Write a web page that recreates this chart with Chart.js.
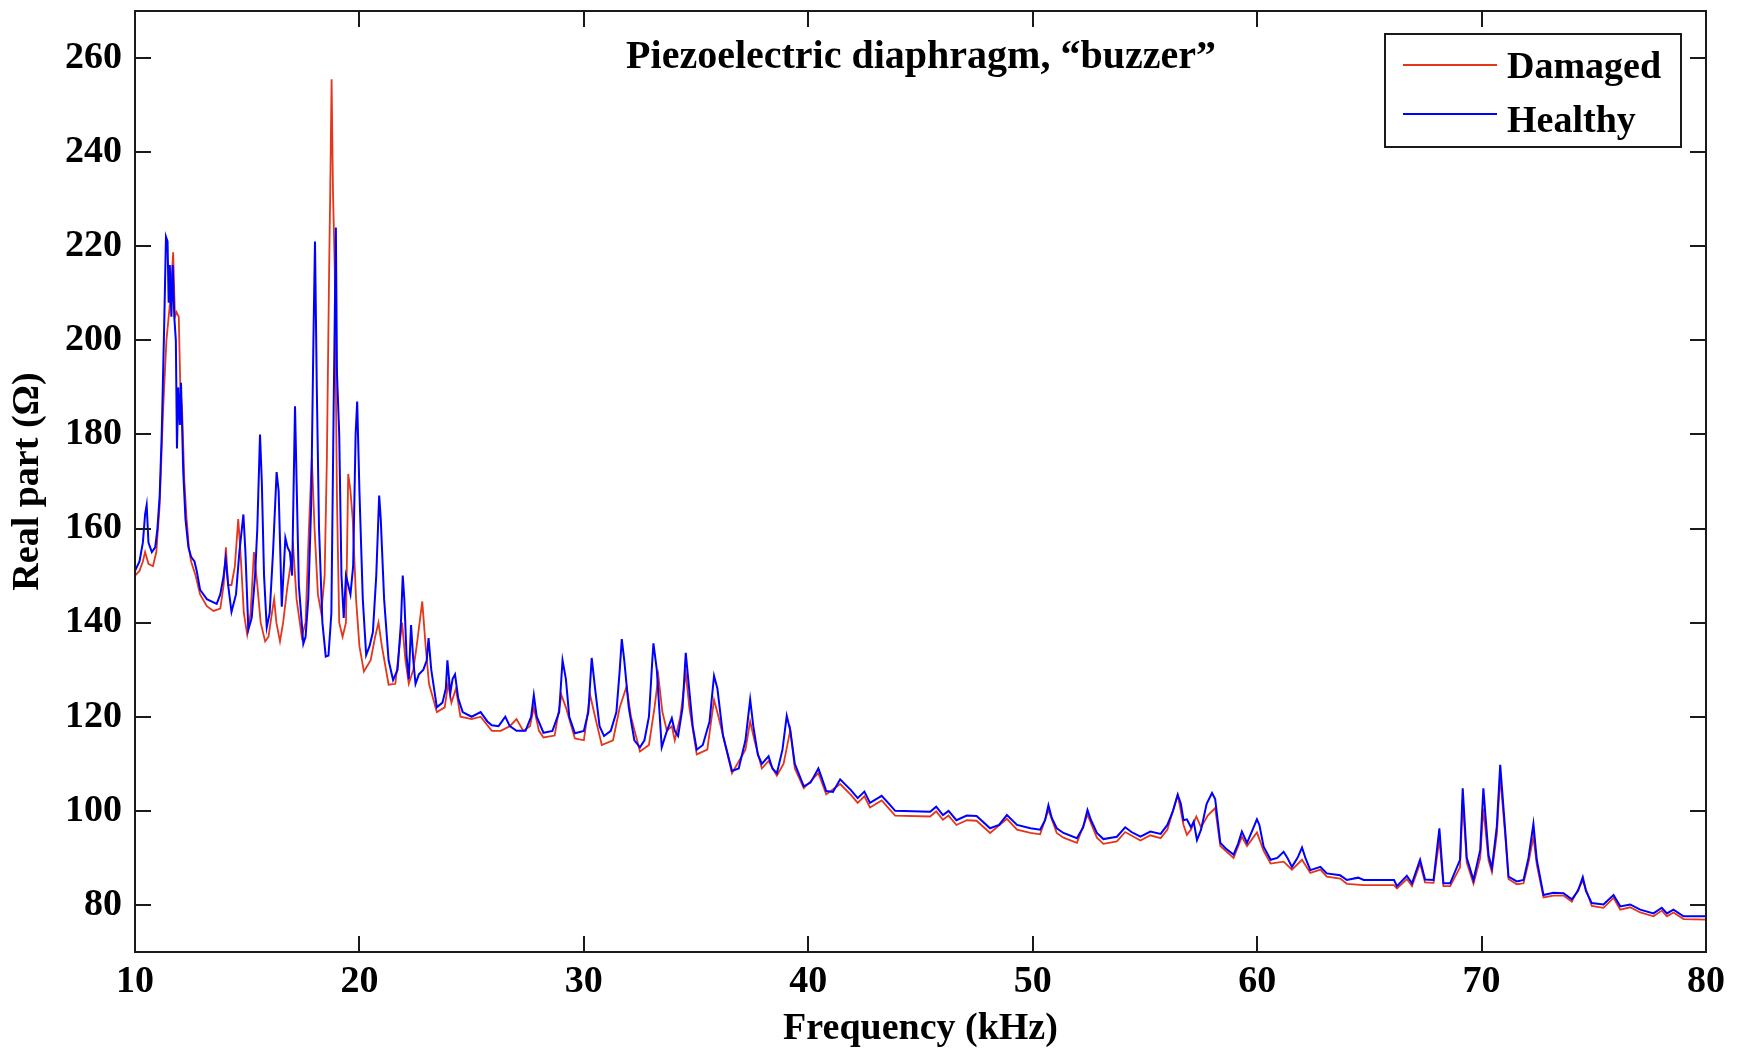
<!DOCTYPE html>
<html>
<head>
<meta charset="utf-8">
<script src="https://cdn.jsdelivr.net/npm/chart.js@4.4.1/dist/chart.umd.min.js"></script>
<style>
html,body{margin:0;padding:0;background:#fff;}
canvas{display:block;}
</style>
</head>
<body>
<canvas id="c" width="1739" height="1052"></canvas>
<script>
const chartTitle = 'Piezoelectric diaphragm, \u201cbuzzer\u201d';
const xTitle = 'Frequency (kHz)';
const yTitle = 'Real part (\u03a9)';
const seriesNames = ['Damaged', 'Healthy'];
const xTicks = [10, 20, 30, 40, 50, 60, 70, 80];
const yTicks = [80, 100, 120, 140, 160, 180, 200, 220, 240, 260];

const freqHealthy = [10.0,10.2,10.35,10.45,10.52,10.6,10.75,10.9,11.0,11.1,11.19,11.3,11.38,11.45,11.5,11.55,11.62,11.68,11.75,11.82,11.87,11.93,12.0,12.05,12.15,12.25,12.38,12.5,12.65,12.75,12.9,13.2,13.64,13.8,13.95,14.04,14.15,14.3,14.5,14.65,14.83,14.92,15.05,15.2,15.35,15.45,15.57,15.65,15.75,15.87,16.0,16.15,16.31,16.4,16.54,16.7,16.8,16.9,17.0,17.13,17.2,17.3,17.5,17.6,17.72,17.85,17.95,18.02,18.1,18.2,18.35,18.5,18.62,18.75,18.85,18.95,19.0,19.1,19.2,19.3,19.4,19.5,19.6,19.72,19.83,19.9,20.0,20.15,20.3,20.45,20.6,20.75,20.88,20.95,21.1,21.3,21.5,21.7,21.85,21.93,22.0,22.1,22.2,22.3,22.4,22.5,22.65,22.85,23.0,23.08,23.2,23.45,23.7,23.85,23.92,24.05,24.15,24.26,24.4,24.6,25.0,25.4,25.7,25.9,26.2,26.5,26.7,27.0,27.4,27.65,27.77,27.9,28.2,28.6,28.9,29.05,29.2,29.35,29.6,30.0,30.2,30.35,30.5,30.7,30.9,31.2,31.45,31.6,31.69,31.8,32.0,32.25,32.5,32.7,32.9,33.05,33.1,33.25,33.47,33.7,33.92,34.05,34.2,34.4,34.54,34.65,34.85,35.03,35.3,35.6,35.8,35.95,36.2,36.6,36.9,37.2,37.41,37.55,37.75,37.93,38.23,38.4,38.6,38.85,39.04,39.2,39.4,39.8,40.1,40.45,40.6,40.8,41.1,41.42,41.9,42.2,42.5,42.75,43.27,43.6,43.87,45.43,45.7,46.0,46.25,46.6,47.06,47.5,48.1,48.5,48.85,49.3,49.9,50.33,50.55,50.7,50.85,51.07,51.37,51.97,52.25,52.44,52.6,52.86,53.15,53.75,54.12,54.4,54.8,55.24,55.7,56.0,56.25,56.46,56.6,56.72,56.87,57.05,57.17,57.32,57.5,57.75,57.99,58.13,58.36,58.6,58.95,59.15,59.32,59.55,59.8,59.99,60.1,60.29,60.6,60.9,61.18,61.35,61.55,61.8,62.0,62.15,62.37,62.82,63.1,63.7,64.0,64.5,64.75,66.1,66.23,66.67,66.9,67.26,67.48,67.86,68.12,68.3,68.6,69.04,69.16,69.34,69.64,69.94,70.08,70.31,70.46,70.68,70.83,71.05,71.2,71.57,71.87,72.09,72.31,72.46,72.76,73.2,73.65,74.02,74.3,74.51,74.65,74.91,75.43,75.88,76.18,76.62,77.07,77.66,78.03,78.26,78.55,79.0,80.0];
const healthy = [151,153,157,163,165,157,155,156,160,167,180,203,222,221,208,216,205,216,205,200,177,190,182,191,172,162,156,154,153,151,147,145,144,146,150,153.6,148,142.3,146,155,163,155,138.5,141,150,160,180,170,150,139,142,155,172,168,143.4,158,156,155,150,186,170,148,135.5,137,145,165,200,221,190,160,140,132.8,133,142,185,224,193,180,150,141,150,148,146,152,180,187,168,145,133.1,135,138,150,167,162,145,132,127.8,130,140,150,145,133,128,139.5,132,127,129,130,132,136.7,130,122,123,126,132,125,128,129,124,121,120,121,119,118.2,118,120,118,117,117,120,124.6,120,116.6,117,121,132,128,120,116.5,117,121,132.5,126,118,115.9,117,121,130,136.5,132,122,115,113.5,115,120,132,135.6,130,113.5,117,119.7,117,115.9,122,133.6,128,118,113,114,119,128.7,126,116,108.5,109,115,123.7,118,112,110,111.6,109,108,113,120.2,117,110,105.2,106,109,107,104.2,104,106.7,104.4,102.7,104.1,101.7,103.2,101.5,100,99.8,100.9,99.1,100,98,99,98.9,96.3,97,99.1,97,96.3,96,98,101.2,98.5,96.3,95.3,94.2,96.5,100.2,98,95.3,94,94.5,96.5,95.5,94.5,95.6,95.1,97,100,103.4,101.5,98,98.2,96.5,97.7,93.8,96,101.5,103.8,102.5,93.2,92,90.7,93,95.6,93.2,96,98.2,97,92.4,89.6,90,91.3,90,88.1,90,92.2,90,87.4,88.1,86.7,86.3,85.3,85.8,85.3,85.3,84,86.2,84.6,89.6,85.4,85.3,96.3,84.6,84.6,89.6,104.8,90,85.3,91.7,104.8,90.6,87.8,96.7,109.8,96,86,85,85.3,90,97.2,89.6,82.1,82.6,82.5,81.2,83,85.9,83,80.4,80.1,82.1,79.7,80.1,79,78.2,79.4,78.2,79,77.6,77.6];

const freqDamaged = [10.0,10.2,10.35,10.45,10.6,10.8,10.95,11.1,11.25,11.4,11.5,11.6,11.7,11.78,11.85,11.95,12.02,12.1,12.2,12.3,12.4,12.5,12.7,12.9,13.2,13.5,13.8,13.95,14.05,14.15,14.3,14.45,14.6,14.7,14.85,15.0,15.15,15.3,15.45,15.6,15.8,15.95,16.1,16.2,16.3,16.46,16.6,16.8,17.05,17.2,17.43,17.6,17.75,17.88,18.0,18.15,18.3,18.45,18.55,18.65,18.7,18.76,18.82,18.9,19.0,19.1,19.25,19.4,19.5,19.6,19.7,19.85,20.0,20.2,20.5,20.7,20.85,21.0,21.3,21.6,21.9,22.05,22.2,22.4,22.55,22.8,22.95,23.1,23.45,23.8,23.95,24.1,24.3,24.5,25.0,25.4,25.9,26.3,26.7,27.0,27.3,27.6,27.77,28.0,28.2,28.7,29.0,29.2,29.6,30.0,30.28,30.5,30.8,31.3,31.6,31.9,32.1,32.5,32.9,33.15,33.32,33.5,33.7,33.92,34.05,34.3,34.54,34.7,35.03,35.5,35.8,36.0,36.6,37.2,37.41,37.6,37.93,38.23,38.6,38.9,39.2,39.4,39.8,40.45,40.8,41.42,41.9,42.2,42.5,42.75,43.27,43.87,45.43,45.7,46.0,46.25,46.6,47.06,47.5,48.1,48.85,49.3,49.9,50.33,50.7,51.07,51.37,51.97,52.44,52.86,53.15,53.75,54.12,54.8,55.24,55.7,56.0,56.46,56.72,56.87,57.05,57.29,57.5,57.8,58.13,58.36,58.95,59.32,59.55,59.99,60.29,60.6,61.18,61.55,62.0,62.37,62.82,63.1,63.7,64.0,64.75,66.1,66.23,66.67,66.9,67.26,67.48,67.86,68.12,68.3,68.6,69.04,69.16,69.34,69.64,69.94,70.08,70.31,70.46,70.68,70.83,71.05,71.2,71.57,71.87,72.09,72.31,72.46,72.76,73.2,73.65,74.02,74.51,74.91,75.43,75.88,76.18,76.62,77.07,77.66,78.03,78.26,78.55,79.0,80.0];
const damaged = [150,151,153,155,152.5,152,155,165,185,200,205,210,218.7,205,206,205,190,185,170,162,156,153,150,146,143.5,142.5,143,148,156,148,148,152,162,155,142,137.5,142,155,148,140,136,137,142,145,140,136,140,148,156,145,137,140,160,175,160,146,142,150,175,215,232,255.5,232,215,166,140,137,140,171.6,168,162,145,135,129.6,132,137,140,135,126.8,127,140,132,127,130,135,144.5,135,127,121,122,127,123,126,120,119.5,120,117,117,118,119.5,117,118,122,117,115.6,116,124.6,122,115.4,115,124.6,120,114,115,122,126.4,120,112.6,114,122,128.6,121,117,118,115,120,129.3,122,112,113,123.6,120,108,113,119,115,109,110.6,107.5,110,117.2,109,104.8,108,103.5,105.7,103.4,101.7,103.1,100.7,102.2,99,98.8,99.9,98.1,99,97,98,97.9,95.3,98.3,96,95.3,95,100.2,95.3,94.3,93.2,99.2,94.3,93,93.5,95.5,93.7,94.8,94.2,96,103.4,97,94.9,96,98.8,96.5,99,100.6,92.5,90,94.5,92.5,95.4,91.5,88.8,89.2,87.5,89.6,86.8,87.5,86,85.6,84.5,84.2,84.2,83.5,85.5,84,88.8,84.8,84.7,94,84,84,88,102.3,89,84.5,90,100.5,89.5,87,95,107.3,95,85.5,84.4,84.6,89,94.5,88.6,81.6,82,82,80.7,85.2,79.8,79.4,81.5,79,79.5,78.4,77.6,78.8,77.6,78.4,77,76.9];

const RED = '#e4361a';
const BLUE = '#0000ff';
const FONT = 'Liberation Serif, Times New Roman, serif';

function pts(xs, ys) { return xs.map((x, i) => ({x: x, y: ys[i]})); }

const framePlugin = {
  id: 'frame',
  afterDatasetsDraw(chart) {
    const {ctx, chartArea: a, scales: {x, y}} = chart;
    ctx.save();
    ctx.strokeStyle = '#1a1a1a';
    ctx.lineWidth = 2;
    ctx.strokeRect(a.left, a.top, a.right - a.left, a.bottom - a.top);
    const L = 16;
    ctx.beginPath();
    xTicks.forEach(v => {
      const px = Math.round(x.getPixelForValue(v));
      ctx.moveTo(px, a.bottom); ctx.lineTo(px, a.bottom - L);
      ctx.moveTo(px, a.top); ctx.lineTo(px, a.top + L);
    });
    yTicks.forEach(v => {
      const py = Math.round(y.getPixelForValue(v));
      ctx.moveTo(a.left, py); ctx.lineTo(a.left + L, py);
      ctx.moveTo(a.right, py); ctx.lineTo(a.right - L, py);
    });
    ctx.stroke();
    // title
    ctx.fillStyle = '#000';
    ctx.font = 'bold 40px ' + FONT;
    ctx.textAlign = 'center';
    ctx.textBaseline = 'middle';
    ctx.fillText(chartTitle, 921, 58);
    // legend
    const bx = 1385, by = 34, bw = 296, bh = 113;
    ctx.fillStyle = '#fff';
    ctx.fillRect(bx, by, bw, bh);
    ctx.strokeStyle = '#1a1a1a';
    ctx.lineWidth = 2;
    ctx.strokeRect(bx, by, bw, bh);
    const rows = [65, 114];
    const baselines = [78, 132];
    chart.data.datasets.forEach((ds, i) => {
      ctx.strokeStyle = ds.borderColor;
      ctx.lineWidth = 2;
      ctx.beginPath();
      ctx.moveTo(1403, rows[i]); ctx.lineTo(1497, rows[i]);
      ctx.stroke();
      ctx.fillStyle = '#000';
      ctx.textAlign = 'left';
      ctx.textBaseline = 'alphabetic';
      ctx.font = 'bold 38px ' + FONT;
      ctx.fillText(ds.label, 1507, baselines[i]);
    });
    ctx.restore();
  }
};

new Chart(document.getElementById('c'), {
  type: 'line',
  data: {
    datasets: [
      {label: seriesNames[0], data: pts(freqDamaged, damaged), borderColor: RED, borderWidth: 1.8, pointRadius: 0, tension: 0, order: 2},
      {label: seriesNames[1], data: pts(freqHealthy, healthy), borderColor: BLUE, borderWidth: 2, pointRadius: 0, tension: 0, order: 1}
    ]
  },
  options: {
    responsive: false,
    animation: false,
    layout: {padding: {top: 11, right: 33, left: 0, bottom: 0}},
    plugins: {legend: {display: false}, tooltip: {enabled: false}},
    scales: {
      x: {
        type: 'linear', min: 10, max: 80,
        afterBuildTicks: s => { s.ticks = xTicks.map(v => ({value: v})); },
        afterFit: s => { s.height = 100; s.paddingLeft = 0; s.paddingRight = 0; },
        grid: {display: false, drawTicks: false},
        border: {display: false},
        ticks: {color: '#000', padding: 7, maxRotation: 0, font: {family: FONT, size: 38, weight: 'bold'}},
        title: {display: true, text: xTitle, color: '#000', padding: {top: 0, bottom: 0}, font: {family: FONT, size: 38, weight: 'bold'}}
      },
      y: {
        type: 'linear', min: 70, max: 270,
        afterBuildTicks: s => { s.ticks = yTicks.map(v => ({value: v})); },
        afterFit: s => { s.width = 135; s.paddingTop = 0; s.paddingBottom = 0; },
        grid: {display: false, drawTicks: false},
        border: {display: false},
        ticks: {color: '#000', padding: 13, font: {family: FONT, size: 38, weight: 'bold'}},
        title: {display: true, text: yTitle, color: '#000', padding: {top: 5, bottom: 0}, font: {family: FONT, size: 38, weight: 'bold'}}
      }
    }
  },
  plugins: [framePlugin]
});
</script>
</body>
</html>
